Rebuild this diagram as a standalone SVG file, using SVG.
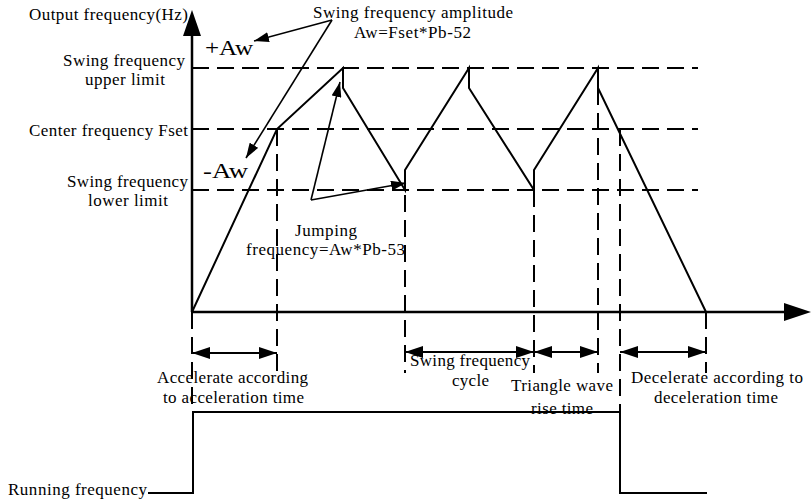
<svg xmlns="http://www.w3.org/2000/svg" width="811" height="501" viewBox="0 0 811 501">
<style>
.t{font-family:"Liberation Serif","Times New Roman",serif;font-size:17px;fill:#000}
.big{font-size:21px}
.s{fill:none;stroke:#000;stroke-width:2;stroke-linejoin:miter}
.d{fill:none;stroke:#000;stroke-width:2;stroke-dasharray:17 8}
.dbl{fill:none;stroke:#000;stroke-width:2;marker-start:url(#ah);marker-end:url(#ah)}
.ann{fill:none;stroke:#000;stroke-width:1.6;marker-end:url(#sa)}
</style>
<defs>
<marker id="ah" viewBox="0 0 18 12" refX="18" refY="6" markerWidth="18" markerHeight="12" markerUnits="userSpaceOnUse" orient="auto-start-reverse">
<path d="M0,0 L18,6 L0,12 z" fill="#000"/>
</marker>
<marker id="sa" viewBox="0 0 15 10" refX="15" refY="5" markerWidth="15" markerHeight="10" markerUnits="userSpaceOnUse" orient="auto">
<path d="M0,0 L15,5 L0,10 z" fill="#000"/>
</marker>
</defs>
<rect width="811" height="501" fill="#fff"/>

<g id="axes">
<line x1="192" y1="312" x2="192" y2="30" stroke="#000" stroke-width="2.5"/>
<polygon points="192,10 183,36 201,36" fill="#000"/>
<line x1="192" y1="312" x2="786" y2="312" stroke="#000" stroke-width="2.5"/>
<polygon points="811,312 784,303 784,321" fill="#000"/>
</g>

<g id="guides">
<line class="d" x1="192" y1="68" x2="698" y2="68"/>
<line class="d" x1="192" y1="129" x2="698" y2="129"/>
<line class="d" x1="192" y1="190" x2="698" y2="190"/>
<line class="d" x1="277" y1="129" x2="277" y2="373"/>
<line class="d" x1="405" y1="170" x2="405" y2="373"/>
<line class="d" x1="534" y1="190" x2="534" y2="373"/>
<line class="d" x1="598" y1="88" x2="598" y2="373"/>
<line class="d" x1="620" y1="129" x2="620" y2="412"/>
<line class="d" x1="706" y1="312" x2="706" y2="373"/>
<line class="d" x1="192" y1="312" x2="192" y2="412"/>
</g>

<g id="waveform">
<polyline class="s" points="192,312 277,129 343,68 343,88 405,190 405,170 469,68 469,88 534,190 534,170 598,68 598,88 706,312"/>
</g>

<g id="running">
<polyline class="s" points="148,493 193,493 193,412 620,412 620,493 707,493"/>
</g>

<g id="connectors">
<line class="ann" x1="332" y1="20" x2="254" y2="41"/>
<line class="ann" x1="332" y1="20" x2="246" y2="158"/>
<line class="ann" x1="311" y1="200" x2="340" y2="82"/>
<line class="ann" x1="311" y1="200" x2="406" y2="183"/>
<line class="dbl" x1="192" y1="353" x2="277" y2="353"/>
<line class="dbl" x1="405" y1="352" x2="534" y2="352"/>
<line class="dbl" x1="534" y1="352" x2="598" y2="352"/>
<line class="dbl" x1="620" y1="352" x2="706" y2="352"/>
</g>

<g id="labels">
<text class="t" x="29" y="20" textLength="159">Output frequency(Hz)</text>
<text class="t big" x="205" y="55" textLength="48" lengthAdjust="spacingAndGlyphs">+Aw</text>
<text class="t" x="63" y="66" textLength="122">Swing frequency</text>
<text class="t" x="85" y="85" textLength="80">upper limit</text>
<text class="t" x="29" y="136" textLength="159">Center frequency Fset</text>
<text class="t big" x="203" y="178" textLength="45" lengthAdjust="spacingAndGlyphs">-Aw</text>
<text class="t" x="67" y="187" textLength="121">Swing frequency</text>
<text class="t" x="88" y="206" textLength="80">lower limit</text>
<text class="t" x="313" y="18" textLength="200">Swing frequency amplitude</text>
<text class="t" x="354" y="38" textLength="117">Aw=Fset*Pb-52</text>
<text class="t" x="295" y="236" textLength="62">Jumping</text>
<text class="t" x="246" y="255" textLength="159">frequency=Aw*Pb-53</text>
<text class="t" x="157" y="383" textLength="151">Accelerate according</text>
<text class="t" x="163" y="403" textLength="141">to acceleration time</text>
<text class="t" x="410" y="366" textLength="120">Swing frequency</text>
<text class="t" x="452" y="386" textLength="37">cycle</text>
<text class="t" x="511" y="391" textLength="102">Triangle wave</text>
<text class="t" x="531" y="414" textLength="62">rise time</text>
<text class="t" x="631" y="383" textLength="172">Decelerate according to</text>
<text class="t" x="654" y="403" textLength="124">deceleration time</text>
<text class="t" x="8" y="495" textLength="139">Running frequency</text>
</g>
</svg>
